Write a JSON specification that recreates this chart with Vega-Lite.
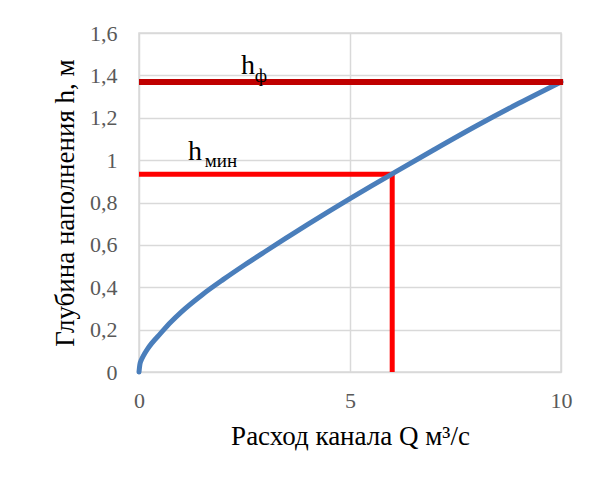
{
  "$schema": "https://vega.github.io/schema/vega-lite/v6.json",
  "autosize": {"type": "none"},
  "width": 422,
  "height": 339,
  "padding": {"left": 139, "top": 33, "right": 47, "bottom": 119},
  "background": "white",
  "config": {
    "font": "Liberation Serif",
    "view": {"stroke": "#d9d9d9", "strokeWidth": 1.5},
    "axis": {
      "gridColor": "#d9d9d9",
      "gridWidth": 1.5,
      "domain": false,
      "ticks": false,
      "labelFlush": false,
      "titleFontWeight": "normal",
      "titleColor": "#000000"
    }
  },
  "datasets": {
    "curve": [
      {"Q": 0, "h": 0},
      {"Q": 0.02, "h": 0.035},
      {"Q": 0.05, "h": 0.055},
      {"Q": 0.1, "h": 0.075},
      {"Q": 0.2, "h": 0.108},
      {"Q": 0.3, "h": 0.135},
      {"Q": 0.5, "h": 0.18},
      {"Q": 0.75, "h": 0.235},
      {"Q": 1.0, "h": 0.283},
      {"Q": 1.5, "h": 0.365},
      {"Q": 2.0, "h": 0.437},
      {"Q": 2.5, "h": 0.505},
      {"Q": 3.0, "h": 0.570},
      {"Q": 3.5, "h": 0.634},
      {"Q": 4.0, "h": 0.697},
      {"Q": 4.5, "h": 0.758},
      {"Q": 5.0, "h": 0.818},
      {"Q": 5.5, "h": 0.877},
      {"Q": 6.0, "h": 0.935},
      {"Q": 7.0, "h": 1.050},
      {"Q": 8.0, "h": 1.162},
      {"Q": 9.0, "h": 1.268},
      {"Q": 10, "h": 1.369}
    ],
    "hmin": [
      {"Q": 0, "h": 0.933, "o": 1},
      {"Q": 6.0, "h": 0.933, "o": 2},
      {"Q": 6.0, "h": 0, "o": 3}
    ],
    "hf": [
      {"Q": 0, "h": 1.369},
      {"Q": 10.05, "h": 1.369}
    ],
    "big": [
      {"Q": 2.42, "h": 1.405, "t": "h"},
      {"Q": 1.16, "h": 0.999, "t": "h"}
    ],
    "sub": [
      {"Q": 2.74, "h": 1.37, "t": "ф"},
      {"Q": 1.56, "h": 0.967, "t": "мин"}
    ]
  },
  "layer": [
    {
      "data": {"name": "hmin"},
      "mark": {"type": "line", "color": "#ff0000", "strokeWidth": 5, "strokeCap": "butt", "strokeJoin": "miter", "clip": false},
      "encoding": {
        "x": {"field": "Q", "type": "quantitative", "scale": {"domain": [0, 10]},
              "axis": {"values": [0, 5, 10], "title": "Расход канала Q м³/с", "labelPadding": 18, "titlePadding": 12, "grid": true,
                       "labelFont": "Liberation Serif", "labelFontSize": 22, "labelColor": "#595959", "labelFlush": false,
                       "titleFont": "Liberation Serif", "titleFontSize": 27}},
        "y": {"field": "h", "type": "quantitative", "scale": {"domain": [0, 1.6]},
              "axis": {"values": [0, 0.2, 0.4, 0.6, 0.8, 1, 1.2, 1.4, 1.6], "labelExpr": "replace(format(datum.value, '~g'), '.', ',')", "title": "Глубина наполнения h, м", "labelPadding": 22, "titlePadding": 10,
                       "labelFont": "Liberation Serif", "labelFontSize": 22, "labelColor": "#595959",
                       "titleFont": "Liberation Serif", "titleFontSize": 27}},
        "order": {"field": "o"}
      }
    },
    {
      "data": {"name": "curve"},
      "mark": {"type": "line", "color": "#4a7ebb", "strokeWidth": 5, "interpolate": "monotone", "strokeCap": "round"},
      "encoding": {
        "x": {"field": "Q", "type": "quantitative"},
        "y": {"field": "h", "type": "quantitative"}
      }
    },
    {
      "data": {"name": "hf"},
      "mark": {"type": "line", "color": "#c00000", "strokeWidth": 6, "strokeCap": "butt", "clip": false},
      "encoding": {
        "x": {"field": "Q", "type": "quantitative"},
        "y": {"field": "h", "type": "quantitative"}
      }
    },
    {
      "data": {"name": "big"},
      "mark": {"type": "text", "fontSize": 28, "align": "left", "baseline": "alphabetic", "color": "#000000", "font": "Liberation Serif"},
      "encoding": {
        "x": {"field": "Q", "type": "quantitative"},
        "y": {"field": "h", "type": "quantitative"},
        "text": {"field": "t"}
      }
    },
    {
      "data": {"name": "sub"},
      "mark": {"type": "text", "fontSize": 19, "align": "left", "baseline": "alphabetic", "color": "#000000", "font": "Liberation Serif"},
      "encoding": {
        "x": {"field": "Q", "type": "quantitative"},
        "y": {"field": "h", "type": "quantitative"},
        "text": {"field": "t"}
      }
    }
  ]
}
